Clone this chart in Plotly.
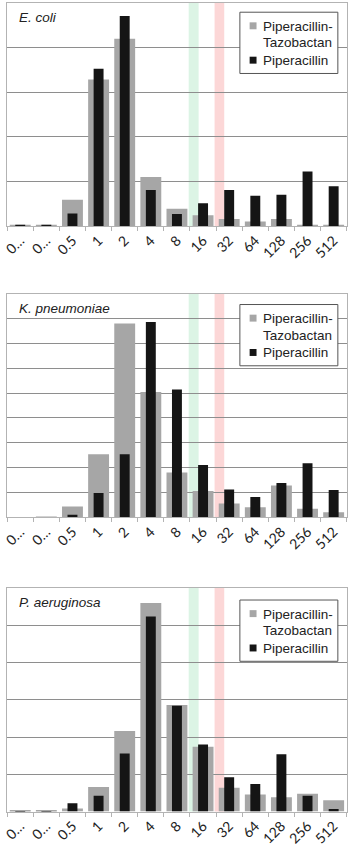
import plotly.graph_objects as go

# MIC categories (mg/L); the two lowest are shown truncated on the axis
categories = ["0.125", "0.25", "0.5", "1", "2", "4", "8", "16", "32", "64", "128", "256", "512"]
tick_labels = ["0…", "0…", "0.5", "1", "2", "4", "8", "16", "32", "64", "128", "256", "512"]

organisms = ["E. coli", "K. pneumoniae", "P. aeruginosa"]
series_names = ["Piperacillin-Tazobactan", "Piperacillin"]

# Distribution values per organism
ecoli_pip_tazo = [0.2, 0.2, 5.9, 32.8, 41.9, 11.0, 3.9, 2.4, 1.6, 1.0, 1.6, 0.3, 0.1]
ecoli_pip = [0.2, 0.3, 2.8, 35.2, 47.0, 8.1, 2.7, 5.1, 8.1, 6.8, 7.0, 12.2, 8.9]

kpneu_pip_tazo = [0.0, 0.1, 2.2, 12.7, 39.0, 25.2, 9.0, 5.3, 2.8, 2.0, 6.4, 1.7, 1.0]
kpneu_pip = [0.0, 0.0, 0.5, 4.9, 12.7, 39.3, 25.7, 10.5, 5.6, 4.1, 6.9, 10.9, 5.5]

paer_pip_tazo = [0.1, 0.1, 0.4, 3.3, 10.8, 28.0, 14.3, 8.7, 3.2, 2.3, 1.9, 2.4, 1.5]
paer_pip = [0.05, 0.05, 1.1, 2.1, 7.8, 26.2, 14.2, 9.0, 4.6, 3.7, 7.7, 2.1, 0.35]

y_max = [50, 45, 30]
y_step = [10, 5, 5]

series = [
    (ecoli_pip_tazo, ecoli_pip),
    (kpneu_pip_tazo, kpneu_pip),
    (paer_pip_tazo, paer_pip),
]

W, H = 348, 847
# panel frames in pixels: (top, bottom)
panel_px = [(2.7, 227.7), (295.7, 521.0), (592.3, 817.3)]
legend_top_px = [12.3, 306.7, 604.3]
x_left_px, x_right_px = 2.2, 346.7

GRAY = "#a6a6a6"
BLACK = "#151515"
GRID = "#8e8e8e"
FRAME = "#b3b3b3"
TEXT = "#222222"
FONT = "Liberation Sans"


def px(x, y):
    """Convert page pixels to paper coordinates."""
    return x / W, 1 - y / H


fig = go.Figure()

for i, (pt, p) in enumerate(series):
    n = "" if i == 0 else str(i + 1)
    fig.add_trace(go.Bar(
        x=categories, y=pt, name=series_names[0],
        marker=dict(color=GRAY, line=dict(width=0)), width=0.8,
        xaxis="x" + n, yaxis="y" + n, showlegend=False,
    ))
    fig.add_trace(go.Bar(
        x=categories, y=p, name=series_names[1],
        marker=dict(color=BLACK, line=dict(width=0)), width=0.38,
        xaxis="x" + n, yaxis="y" + n, showlegend=False,
    ))

layout = dict(
    width=W, height=H,
    margin=dict(l=0, r=0, t=0, b=0),
    paper_bgcolor="white", plot_bgcolor="white",
    barmode="overlay",
    showlegend=False,
    shapes=[], annotations=[],
)

for i in range(3):
    n = "" if i == 0 else str(i + 1)
    top, bot = panel_px[i]
    layout["xaxis" + n] = dict(
        domain=[x_left_px / W, x_right_px / W],
        anchor="y" + n,
        type="category",
        categoryorder="array", categoryarray=categories,
        tickvals=categories, ticktext=tick_labels,
        tickangle=-45,
        tickson="boundaries", ticks="outside", ticklen=4, tickcolor=FRAME,
        showline=True, linecolor=FRAME, linewidth=1, mirror=True,
        showgrid=False,
        tickfont=dict(family="Lato", size=14, color=TEXT),
        range=[-0.5, 12.5],
    )
    layout["yaxis" + n] = dict(
        domain=[1 - bot / H, 1 - top / H],
        anchor="x" + n,
        range=[0, y_max[i]], dtick=y_step[i],
        showticklabels=False, ticks="",
        showgrid=True, gridcolor=GRID, gridwidth=1,
        zeroline=False,
        showline=True, linecolor=FRAME, linewidth=1, mirror=True,
    )

    # breakpoint bands (susceptible / resistant)
    xr = "x" + n
    yr = ("y" + n) + " domain"
    layout["shapes"].append(dict(
        type="rect", xref=xr, yref=yr, x0=6.45, x1=6.83, y0=0, y1=1,
        fillcolor="rgba(140, 220, 170, 0.3)", line=dict(width=0), layer="below",
    ))
    layout["shapes"].append(dict(
        type="rect", xref=xr, yref=yr, x0=7.44, x1=7.81, y0=0, y1=1,
        fillcolor="rgba(245, 140, 140, 0.35)", line=dict(width=0), layer="below",
    ))

    # organism label
    tx, ty = px(12, top + 14.5)
    layout["annotations"].append(dict(
        text="<i>" + organisms[i] + "</i>",
        xref="paper", yref="paper", x=tx, y=ty,
        xanchor="left", yanchor="middle", showarrow=False,
        font=dict(family=FONT, size=13.5, color=TEXT),
    ))

    # legend box
    lt = legend_top_px[i]
    bx0, by0 = px(238.3, lt)
    bx1, by1 = px(337.7, lt + 61.7)
    layout["shapes"].append(dict(
        type="rect", xref="paper", yref="paper", x0=bx0, x1=bx1, y0=by1, y1=by0,
        fillcolor="white", line=dict(color="#555555", width=1), layer="above",
    ))
    # legend keys
    for key_y, col in ((lt + 13.7, GRAY), (lt + 48.3, BLACK)):
        kx0, ky0 = px(248.2, key_y - 3.5)
        kx1, ky1 = px(255.2, key_y + 3.5)
        layout["shapes"].append(dict(
            type="rect", xref="paper", yref="paper", x0=kx0, x1=kx1, y0=ky1, y1=ky0,
            fillcolor=col, line=dict(width=0), layer="above",
        ))
    # legend texts
    for txt, ly in (("Piperacillin-", lt + 14.5), ("Tazobactan", lt + 31.0),
                    ("Piperacillin", lt + 48.5)):
        lx, lyp = px(259.5, ly)
        layout["annotations"].append(dict(
            text=txt, xref="paper", yref="paper", x=lx, y=lyp,
            xanchor="left", yanchor="middle", showarrow=False,
            font=dict(family=FONT, size=13.5, color=TEXT),
        ))

fig.update_layout(**layout)
fig.write_html("out.html")
